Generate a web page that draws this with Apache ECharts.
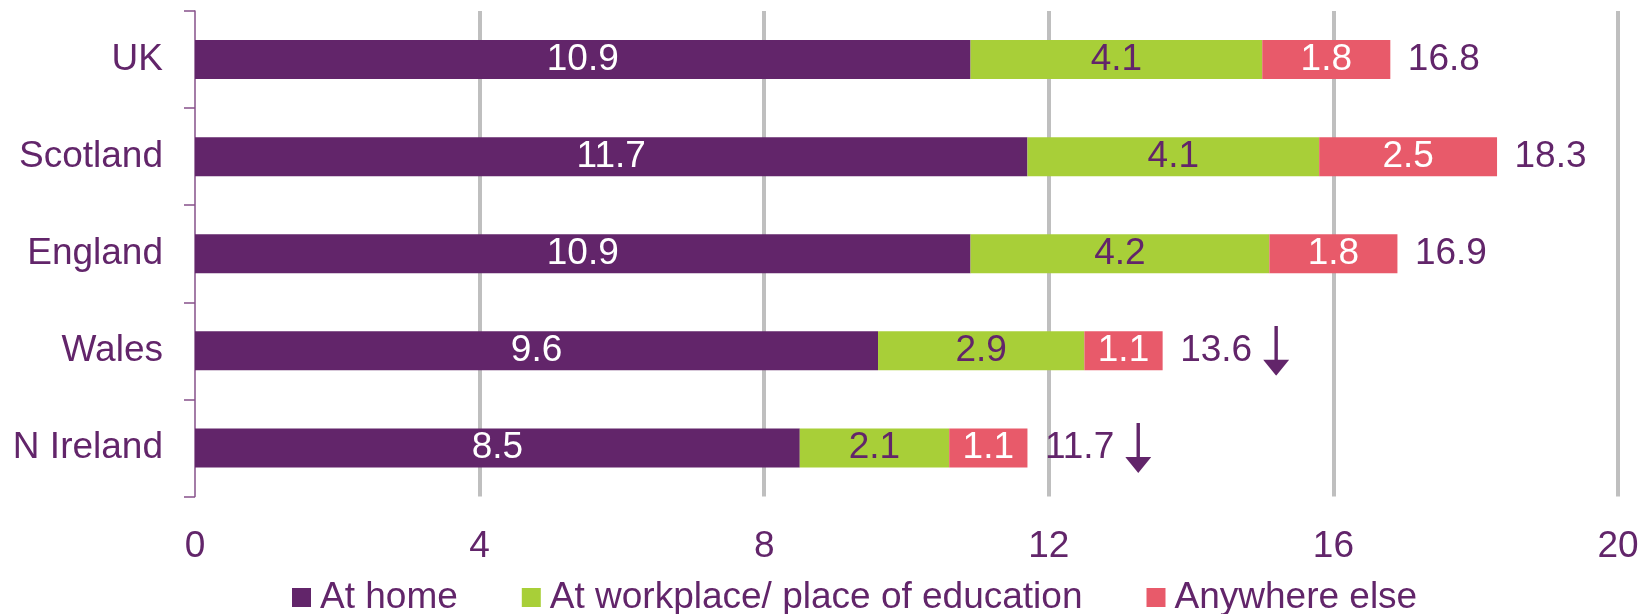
<!DOCTYPE html>
<html>
<head>
<meta charset="utf-8">
<script src="https://cdn.jsdelivr.net/npm/echarts@6/dist/echarts.min.js"></script>
<style>
html,body{margin:0;padding:0;background:#fff;}
#c{width:1652px;height:614px;}
</style>
</head>
<body>
<div id="c"></div>
<script>
const categories = ['UK', 'Scotland', 'England', 'Wales', 'N Ireland'];
const seriesNames = ['At home', 'At workplace/ place of education', 'Anywhere else'];
const atHome = [10.9, 11.7, 10.9, 9.6, 8.5];
const atWork = [4.1, 4.1, 4.2, 2.9, 2.1];
const elsewhere = [1.8, 2.5, 1.8, 1.1, 1.1];
const totals = [16.8, 18.3, 16.9, 13.6, 11.7];
const trend = ['', '', '', 'down', 'down'];
const xTicks = [0, 4, 8, 12, 16, 20];

const PURPLE = '#62256A';
const GREEN = '#A8CF38';
const RED = '#E85A6A';
const FONT = '"Liberation Sans", Arial, sans-serif';
const FS = 37;

const arrowSvg = 'data:image/svg+xml;utf8,' + encodeURIComponent(
  '<svg xmlns="http://www.w3.org/2000/svg" width="26" height="50" viewBox="0 0 26 50">' +
  '<rect x="11.3" y="0" width="3.4" height="36" fill="' + PURPLE + '"/>' +
  '<polygon points="0,34 26,34 13,50" fill="' + PURPLE + '"/></svg>');
const arrowImg = new Image();
arrowImg.src = arrowSvg;

const chart = echarts.init(document.getElementById('c'), null, {renderer: 'canvas'});

function barSeries(name, data, color, labelColor) {
  return {
    name: name,
    type: 'bar',
    stack: 'total',
    data: data,
    barWidth: 39,
    itemStyle: {color: color},
    label: {
      show: true,
      position: 'inside',
      color: labelColor,
      fontSize: FS,
      fontFamily: FONT,
      formatter: p => p.value.toFixed(1)
    },
    emphasis: {disabled: true}
  };
}

const option = {
  animation: false,
  backgroundColor: '#ffffff',
  textStyle: {fontFamily: FONT},
  grid: {left: 195, right: 34, top: 11, bottom: 117.5, containLabel: false},
  legend: {
    data: seriesNames,
    left: 287,
    top: 574,
    itemWidth: 19,
    itemHeight: 19,
    itemGap: 64,
    icon: 'rect',
    textStyle: {color: PURPLE, fontSize: FS, fontFamily: FONT, padding: [0, 0, 0, 4]},
    selectedMode: false
  },
  xAxis: {
    type: 'value',
    min: xTicks[0],
    max: xTicks[xTicks.length - 1],
    interval: 4,
    axisLine: {show: false},
    axisTick: {show: false},
    axisLabel: {color: PURPLE, fontSize: FS, fontFamily: FONT, margin: 32},
    splitLine: {
      show: true,
      lineStyle: {
        width: 4,
        color: ['rgba(0,0,0,0)', '#BFBFBF', '#BFBFBF', '#BFBFBF', '#BFBFBF', '#BFBFBF']
      }
    }
  },
  yAxis: {
    type: 'category',
    data: categories,
    inverse: true,
    axisLine: {show: true, lineStyle: {color: '#86508A', width: 1.5}},
    axisTick: {show: true, length: 11, inside: false, lineStyle: {color: '#86508A', width: 1.5}},
    axisLabel: {color: PURPLE, fontSize: FS, fontFamily: FONT, margin: 32},
    splitLine: {show: false}
  },
  series: [
    barSeries(seriesNames[0], atHome, PURPLE, '#ffffff'),
    barSeries(seriesNames[1], atWork, GREEN, PURPLE),
    barSeries(seriesNames[2], elsewhere, RED, '#ffffff'),
    {
      name: 'Total',
      type: 'scatter',
      data: totals.map((t, i) => [t, categories[i]]),
      symbolSize: 1,
      itemStyle: {color: 'rgba(0,0,0,0)', opacity: 1},
      silent: true,
      z: 5,
      label: {
        show: true,
        position: 'right',
        distance: 17,
        color: PURPLE,
        opacity: 1,
        fontSize: FS,
        fontFamily: FONT,
        formatter: p => {
          const v = '{v|' + totals[p.dataIndex].toFixed(1) + '}';
          return trend[p.dataIndex] === 'down' ? v + '{g|}{a|}' : v;
        },
        rich: {
          v: {color: PURPLE, fontSize: FS, fontFamily: FONT},
          g: {width: 11, height: 10},
          a: {width: 26, height: 50, backgroundColor: {image: arrowImg}}
        }
      }
    }
  ]
};

function draw() { chart.setOption(option, true); }
if (arrowImg.complete) draw(); else { arrowImg.onload = draw; arrowImg.onerror = draw; draw(); }
</script>
</body>
</html>
